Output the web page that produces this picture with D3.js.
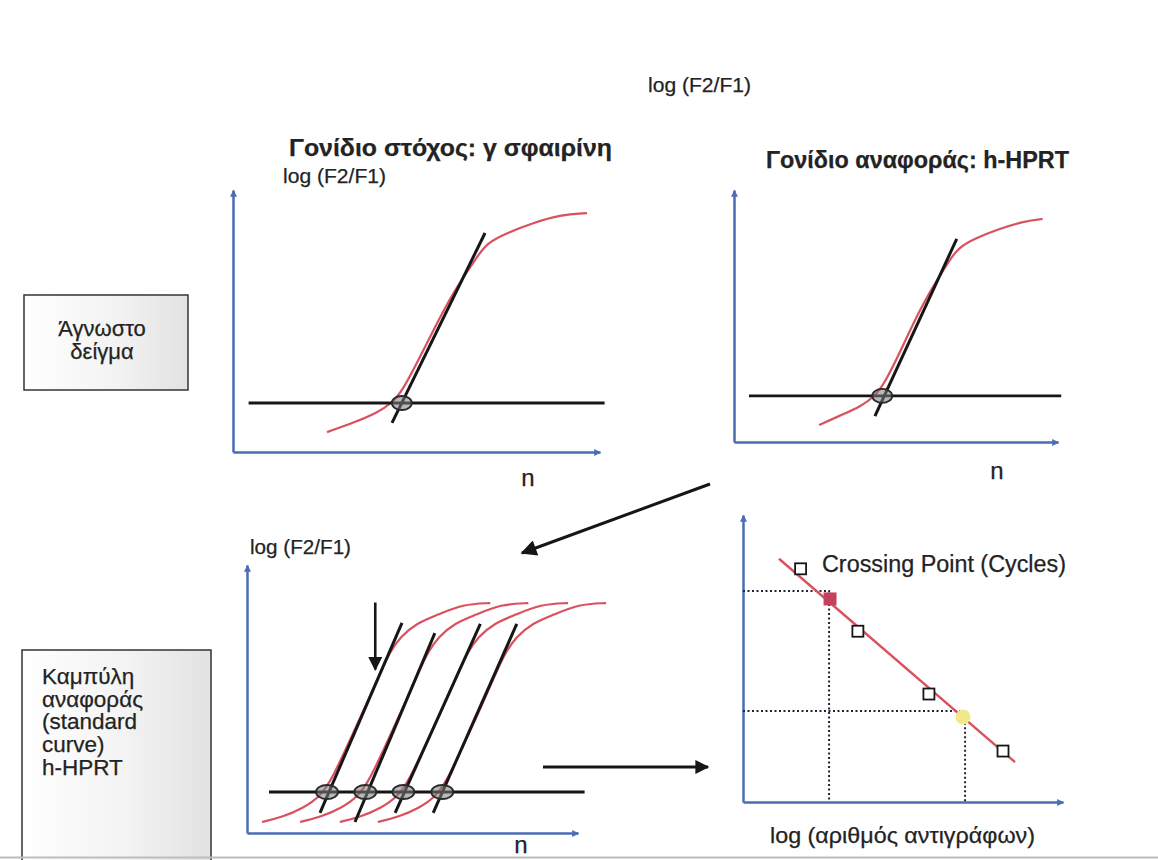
<!DOCTYPE html>
<html>
<head>
<meta charset="utf-8">
<script src="https://cdn.jsdelivr.net/npm/d3@7/dist/d3.min.js"></script>
<style>
	body { margin: 0; background: #fff; }
	svg text { font-family: 'Liberation Sans', Arial, sans-serif; fill: #232323; stroke: #232323; stroke-width: 0.25px; }
</style>
</head>
<body>
<svg id="chart" width="1158" height="860"></svg>
<script>

// --- values (cycles n vs log(F2/F1), arbitrary units 0..10) ---

var targetCurve = [ [ 10.25, 0.76 ], [ 13.08, 1.11 ], [ 15.69, 1.49 ], [ 17.33, 1.87 ], [ 18.53, 2.37 ], [ 20.38, 3.63 ], [ 22.23, 4.92 ], [ 23.98, 6.07 ], [ 25.5, 6.87 ], [ 26.6, 7.44 ], [ 27.68, 7.98 ], [ 29.86, 8.36 ], [ 32.7, 8.74 ], [ 35.64, 9.05 ], [ 38.58, 9.12 ] ];
var targetTangent = [ [ 17.33, 1.11 ], [ 27.47, 8.36 ] ];
var targetThreshold = 1.87;
var targetThresholdSpan = [ 1.7, 40.5 ];
var targetCt = 18.4;

var refCurve = [ [ 10.5, 0.67 ], [ 13.1, 1.05 ], [ 15.7, 1.42 ], [ 17.3, 1.8 ], [ 18.5, 2.28 ], [ 20.4, 3.5 ], [ 22.2, 4.75 ], [ 24.0, 5.87 ], [ 25.5, 6.64 ], [ 26.6, 7.2 ], [ 27.7, 7.72 ], [ 29.9, 8.1 ], [ 32.7, 8.45 ], [ 35.6, 8.75 ], [ 38.1, 8.85 ] ];
var refTangent = [ [ 17.4, 1.03 ], [ 27.5, 8.06 ] ];
var refThreshold = 1.83;
var refThresholdSpan = [ 1.85, 40.4 ];
var refCt = 18.3;

// standard curve: one amplification shape, shifted by each dilution
var stdShape = [ [ 1.81, 0.41 ], [ 4.35, 0.6 ], [ 6.77, 0.93 ], [ 8.82, 1.34 ], [ 10.39, 2.09 ], [ 12.45, 3.47 ], [ 14.5, 4.85 ], [ 16.07, 5.97 ], [ 17.28, 6.75 ], [ 18.49, 7.31 ], [ 20.54, 7.84 ], [ 22.96, 8.13 ], [ 26.1, 8.54 ], [ 29.4, 8.58 ] ];
var stdShifts = [ 0, 4.6, 9.4, 14.0 ];
var stdTangents = [
	[ [ 8.82, 0.75 ], [ 18.73, 7.84 ] ],
	[ [ 13.05, 0.41 ], [ 22.7, 7.46 ] ],
	[ [ 17.9, 0.75 ], [ 28.2, 7.8 ] ],
	[ [ 22.5, 0.75 ], [ 32.6, 7.8 ] ]
];
var stdThreshold = 1.53;
var stdThresholdSpan = [ 2.66, 40.8 ];
var stdCt = [ 9.67, 14.3, 18.9, 23.6 ];
var stdMarker = { n: 15.5, from: 8.6, to: 6.1 };

// crossing point vs log copies
var cpPoints = [ [ 1.8, 32.5 ], [ 3.59, 23.8 ], [ 5.81, 15.05 ], [ 8.125, 7.1 ] ];
var cpFit = [ [ 1.125, 33.9 ], [ 8.5, 5.57 ] ];
var cpTarget = [ 2.72, 28.3 ];
var cpTargetGuide = [ 2.69, 29.4 ];
var cpRef = [ 6.875, 11.85 ];
var cpRefGuide = [ 6.94, 12.7 ];

// --- styles ---
var axisColor = '#4a6db3';
var curveColor = '#d9505e';
var inkColor = '#161616';

var svg = d3.select( '#chart' );

var defs = svg.append( 'defs' );

function addMarker( id, color, w, h ) {
	defs.append( 'marker' )
		.attr( 'id', id )
		.attr( 'viewBox', '0 0 10 10' )
		.attr( 'refX', 9 )
		.attr( 'refY', 5 )
		.attr( 'markerUnits', 'userSpaceOnUse' )
		.attr( 'markerWidth', w )
		.attr( 'markerHeight', h )
		.attr( 'orient', 'auto' )
		.append( 'path' )
		.attr( 'd', 'M0,0 L10,5 L0,10 Z' )
		.attr( 'fill', color );
}
addMarker( 'axisArrow', axisColor, 8, 7 );
addMarker( 'inkArrow', inkColor, 20, 16 );
addMarker( 'sideArrow', inkColor, 17, 14 );
addMarker( 'thinArrow', inkColor, 15, 14 );

var grad = defs.append( 'linearGradient' ).attr( 'id', 'boxFill' );
grad.append( 'stop' ).attr( 'offset', '0%' ).attr( 'stop-color', '#ffffff' );
grad.append( 'stop' ).attr( 'offset', '55%' ).attr( 'stop-color', '#f3f3f3' );
grad.append( 'stop' ).attr( 'offset', '100%' ).attr( 'stop-color', '#e2e2e2' );

function makePanel( xr, yr, xd, yd ) {
	var x = d3.scaleLinear().domain( xd ).range( xr );
	var y = d3.scaleLinear().domain( yd ).range( yr );
	var g = svg.append( 'g' );

	var ax = g.append( 'g' )
		.attr( 'transform', 'translate(0,' + yr[0] + ')' )
		.call( d3.axisBottom( x ).tickValues( [] ).tickSizeOuter( 0 ) );
	var ay = g.append( 'g' )
		.attr( 'transform', 'translate(' + xr[0] + ',0)' )
		.call( d3.axisLeft( y ).tickValues( [] ).tickSizeOuter( 0 ) );

	[ ax, ay ].forEach( function ( a ) {
		a.select( '.domain' )
			.attr( 'stroke', axisColor )
			.attr( 'stroke-width', 2.5 )
			.attr( 'marker-end', 'url(#axisArrow)' );
	} );

	return { g: g, x: x, y: y };
}

function lineOf( p, curve ) {
	return d3.line()
		.x( function ( d ) { return p.x( d[0] ); } )
		.y( function ( d ) { return p.y( d[1] ); } )
		.curve( curve || d3.curveLinear );
}

function drawCt( p, c, threshold, rx, ry ) {
	p.g.append( 'ellipse' )
		.attr( 'cx', p.x( c ) )
		.attr( 'cy', p.y( threshold ) )
		.attr( 'rx', rx )
		.attr( 'ry', ry )
		.attr( 'fill', '#7d7d7d' )
		.attr( 'fill-opacity', 0.55 )
		.attr( 'stroke', '#2a2a2a' )
		.attr( 'stroke-width', 1.8 );
}

function drawAmplification( p, curve, tangent, threshold, span, ct ) {
	p.g.append( 'path' )
		.datum( curve )
		.attr( 'd', lineOf( p, d3.curveBasis ) )
		.attr( 'fill', 'none' )
		.attr( 'stroke', curveColor )
		.attr( 'stroke-width', 2.2 );

	p.g.append( 'line' )
		.attr( 'x1', p.x( span[0] ) ).attr( 'x2', p.x( span[1] ) )
		.attr( 'y1', p.y( threshold ) ).attr( 'y2', p.y( threshold ) )
		.attr( 'stroke', inkColor )
		.attr( 'stroke-width', 2.8 );

	p.g.append( 'path' )
		.datum( tangent )
		.attr( 'd', lineOf( p ) )
		.attr( 'stroke', inkColor )
		.attr( 'stroke-width', 3 );

	drawCt( p, ct, threshold, 10, 7 );
}

// --- panel: target gene ---
var p1 = makePanel( [ 233, 600 ], [ 452, 190 ], [ 0, 40 ], [ 0, 10 ] );
drawAmplification( p1, targetCurve, targetTangent, targetThreshold, targetThresholdSpan, targetCt );

// --- panel: reference gene ---
var p2 = makePanel( [ 734, 1058 ], [ 442, 190 ], [ 0, 40 ], [ 0, 10 ] );
drawAmplification( p2, refCurve, refTangent, refThreshold, refThresholdSpan, refCt );

// --- panel: standard curve amplifications ---
var p3 = makePanel( [ 247, 578 ], [ 833, 565 ], [ 0, 40 ], [ 0, 10 ] );

stdShifts.forEach( function ( s ) {
	p3.g.append( 'path' )
		.datum( stdShape.map( function ( d ) { return [ d[0] + s, d[1] ]; } ) )
		.attr( 'd', lineOf( p3, d3.curveBasis ) )
		.attr( 'fill', 'none' )
		.attr( 'stroke', curveColor )
		.attr( 'stroke-width', 2.2 );
} );

p3.g.append( 'line' )
	.attr( 'x1', p3.x( stdThresholdSpan[0] ) ).attr( 'x2', p3.x( stdThresholdSpan[1] ) )
	.attr( 'y1', p3.y( stdThreshold ) ).attr( 'y2', p3.y( stdThreshold ) )
	.attr( 'stroke', inkColor )
	.attr( 'stroke-width', 2.8 );

stdTangents.forEach( function ( t ) {
	p3.g.append( 'path' )
		.datum( t )
		.attr( 'd', lineOf( p3 ) )
		.attr( 'stroke', inkColor )
		.attr( 'stroke-width', 3 );
} );

stdCt.forEach( function ( c ) {
	drawCt( p3, c, stdThreshold, 11, 7 );
} );

p3.g.append( 'line' )
	.attr( 'x1', p3.x( stdMarker.n ) ).attr( 'x2', p3.x( stdMarker.n ) )
	.attr( 'y1', p3.y( stdMarker.from ) ).attr( 'y2', p3.y( stdMarker.to ) )
	.attr( 'stroke', inkColor )
	.attr( 'stroke-width', 2.6 )
	.attr( 'marker-end', 'url(#thinArrow)' );

// --- panel: crossing point vs log copies ---
var p4 = makePanel( [ 743, 1063 ], [ 802, 515 ], [ 0, 10 ], [ 0, 40 ] );

[ cpTargetGuide, cpRefGuide ].forEach( function ( d ) {
	p4.g.append( 'path' )
		.datum( [ [ 0, d[1] ], [ d[0], d[1] ], [ d[0], 0 ] ] )
		.attr( 'd', lineOf( p4 ) )
		.attr( 'fill', 'none' )
		.attr( 'stroke', '#1c2333' )
		.attr( 'stroke-width', 2 )
		.attr( 'stroke-dasharray', '2 2.5' );
} );

p4.g.append( 'path' )
	.datum( cpFit )
	.attr( 'd', lineOf( p4 ) )
	.attr( 'stroke', curveColor )
	.attr( 'stroke-width', 2.4 );

p4.g.selectAll( 'rect.std' )
	.data( cpPoints )
	.enter().append( 'rect' )
	.attr( 'class', 'std' )
	.attr( 'x', function ( d ) { return p4.x( d[0] ) - 5.5; } )
	.attr( 'y', function ( d ) { return p4.y( d[1] ) - 5.5; } )
	.attr( 'width', 11 )
	.attr( 'height', 11 )
	.attr( 'fill', '#fff' )
	.attr( 'stroke', inkColor )
	.attr( 'stroke-width', 1.8 );

p4.g.append( 'rect' )
	.attr( 'x', p4.x( cpTarget[0] ) - 6.5 )
	.attr( 'y', p4.y( cpTarget[1] ) - 6.5 )
	.attr( 'width', 13 )
	.attr( 'height', 13 )
	.attr( 'fill', '#c4415c' );

p4.g.append( 'circle' )
	.attr( 'cx', p4.x( cpRef[0] ) )
	.attr( 'cy', p4.y( cpRef[1] ) )
	.attr( 'r', 7.5 )
	.attr( 'fill', '#f2e88a' );

// --- connecting arrows ---
svg.append( 'line' )
	.attr( 'x1', 710 ).attr( 'y1', 484 )
	.attr( 'x2', 522 ).attr( 'y2', 553 )
	.attr( 'stroke', inkColor )
	.attr( 'stroke-width', 3 )
	.attr( 'marker-end', 'url(#inkArrow)' );

svg.append( 'line' )
	.attr( 'x1', 543 ).attr( 'y1', 767 )
	.attr( 'x2', 708 ).attr( 'y2', 767 )
	.attr( 'stroke', inkColor )
	.attr( 'stroke-width', 3 )
	.attr( 'marker-end', 'url(#sideArrow)' );

// --- side boxes ---
svg.append( 'rect' )
	.attr( 'x', 24 ).attr( 'y', 295 )
	.attr( 'width', 164 ).attr( 'height', 95 )
	.attr( 'fill', 'url(#boxFill)' )
	.attr( 'stroke', '#333' )
	.attr( 'stroke-width', 1.5 );

svg.append( 'rect' )
	.attr( 'x', 22 ).attr( 'y', 650 )
	.attr( 'width', 189 ).attr( 'height', 230 )
	.attr( 'fill', 'url(#boxFill)' )
	.attr( 'stroke', '#333' )
	.attr( 'stroke-width', 1.5 );

var box1Lines = [ 'Άγνωστο', 'δείγμα' ];
svg.append( 'text' )
	.attr( 'font-size', 22 )
	.attr( 'text-anchor', 'middle' )
	.selectAll( 'tspan' )
	.data( box1Lines )
	.enter().append( 'tspan' )
	.attr( 'x', 102 )
	.attr( 'y', function ( d, i ) { return 336 + i * 22.5; } )
	.text( function ( d ) { return d; } );

var box2Lines = [ 'Καμπύλη', 'αναφοράς', '(standard', 'curve)', 'h-HPRT' ];
svg.append( 'text' )
	.attr( 'font-size', 22.5 )
	.selectAll( 'tspan' )
	.data( box2Lines )
	.enter().append( 'tspan' )
	.attr( 'x', 42 )
	.attr( 'y', function ( d, i ) { return 684 + i * 22.7; } )
	.text( function ( d ) { return d; } );

// --- labels ---
function label( txt, x, y, size, opts ) {
	opts = opts || {};
	var t = svg.append( 'text' )
		.attr( 'x', x )
		.attr( 'y', y )
		.attr( 'font-size', size )
		.attr( 'font-weight', opts.bold ? 'bold' : 'normal' )
		.attr( 'text-anchor', opts.anchor || 'start' )
		.text( txt );
	if ( opts.len ) {
		t.attr( 'textLength', opts.len ).attr( 'lengthAdjust', 'spacingAndGlyphs' );
	}
	return t;
}

label( 'log (F2/F1)', 648, 92, 21, { len: 103 } );
label( 'Γονίδιο στόχος: γ σφαιρίνη', 289, 156, 24, { bold: true, len: 323 } );
label( 'log (F2/F1)', 283, 183, 21, { len: 103 } );
label( 'Γονίδιο αναφοράς: h-HPRT', 766, 168, 23, { bold: true, len: 303 } );
label( 'n', 528, 486, 24, { anchor: 'middle' } );
label( 'n', 997, 479, 24, { anchor: 'middle' } );
label( 'log (F2/F1)', 250, 554, 21, { len: 101 } );
label( 'n', 521, 853, 24, { anchor: 'middle' } );
label( 'Crossing Point (Cycles)', 822, 572, 23, { len: 244 } );
label( 'log (αριθμός αντιγράφων)', 770, 843, 22, { len: 265 } );

// faint scan edge
svg.append( 'line' )
	.attr( 'x1', 0 ).attr( 'x2', 1158 )
	.attr( 'y1', 857.5 ).attr( 'y2', 857.5 )
	.attr( 'stroke', '#bdbdbd' )
	.attr( 'stroke-width', 2 );

</script>
</body>
</html>
